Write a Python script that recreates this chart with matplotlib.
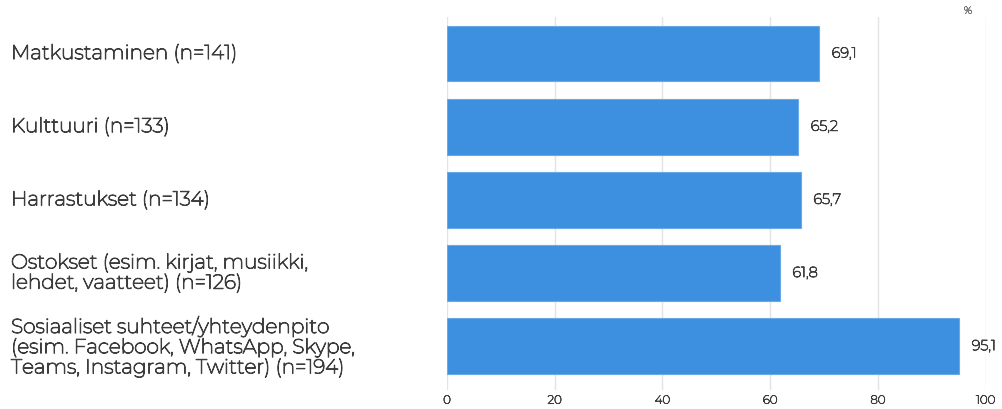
import matplotlib; matplotlib.use('Agg')
import matplotlib.pyplot as plt
import matplotlib.patheffects as pe
from matplotlib.transforms import blended_transform_factory
plt.rcParams['font.family'] = ['Montserrat', 'DejaVu Sans']

categories = ['Matkustaminen (n=141)', 'Kulttuuri (n=133)', 'Harrastukset (n=134)',
              'Ostokset (esim. kirjat, musiikki,\nlehdet, vaatteet) (n=126)',
              'Sosiaaliset suhteet/yhteydenpito\n(esim. Facebook, WhatsApp, Skype,\nTeams, Instagram, Twitter) (n=194)']
values = [69.1, 65.2, 65.7, 61.8, 95.1]
xticks = [0, 20, 40, 60, 80, 100]

BAR = '#3d8fdf'; TXT = '#3d3d3d'; GRID = '#e3e3e3'
thick = lambda w, c=TXT: [pe.withStroke(linewidth=w, foreground=c)]

fig = plt.figure(figsize=(10.03, 4.10), dpi=100)
ax = fig.add_axes([0.4457, 0.046, 0.537, 0.91])
ypos = list(range(len(values)))
ax.barh(ypos, values, height=0.76, color=BAR, edgecolor='#6aa9e8', lw=0.8, zorder=3)
for y, v in zip(ypos, values):
    ax.annotate(f'{v:.1f}'.replace('.', ','), (v, y), xytext=(9, 0), textcoords='offset points',
                va='center', ha='left', fontsize=10.5, color=TXT, path_effects=thick(0.6))
ax.set_xlim(0, 100)
ax.set_ylim(4.6, -0.5)
ax.set_xticks(xticks)
ax.set_xticklabels([str(t) for t in xticks], fontsize=8.5, color=TXT, path_effects=thick(0.5))
ax.set_yticks([])
ax.tick_params(axis='x', length=0, pad=4)
ax.grid(axis='x', color=GRID, lw=1, zorder=0)
for s in ax.spines.values(): s.set_visible(False)

tr = blended_transform_factory(fig.transFigure, ax.transData)
for y, c in zip(ypos, categories):
    ax.text(0.011, y, c, transform=tr, ha='left', va='center', fontsize=14.5,
            color=TXT, linespacing=1.08, path_effects=thick(0.75))
fig.text(0.965, 0.97, '%', ha='center', va='center', fontsize=7.5, color='#777777',
         path_effects=thick(0.4, '#777777'))
fig.savefig('out.png', dpi=100)
